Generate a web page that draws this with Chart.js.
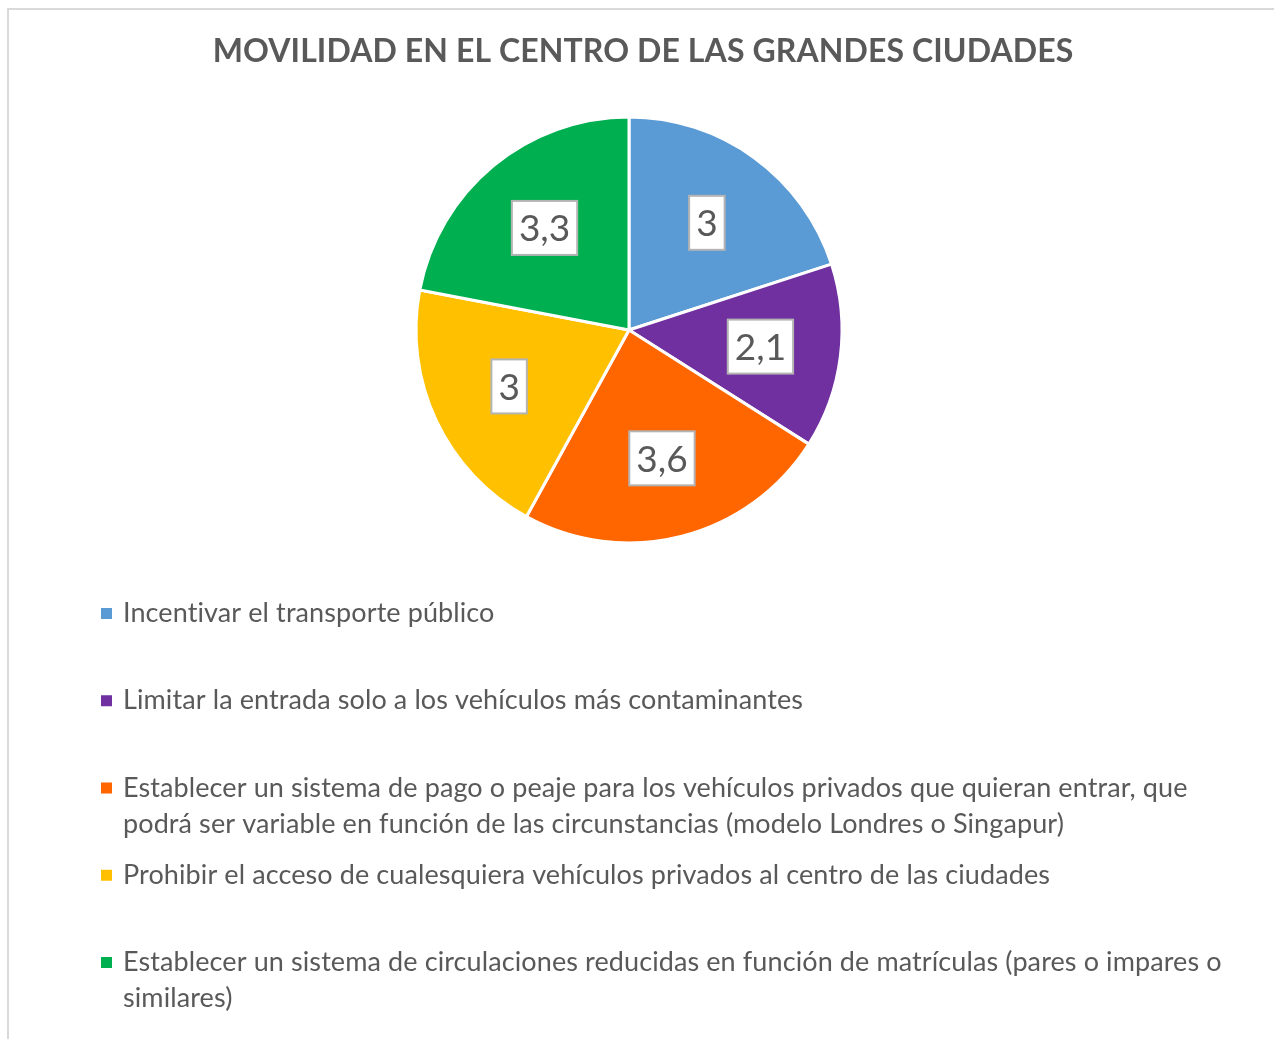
<!DOCTYPE html>
<html><head><meta charset="utf-8">
<script src="https://cdn.jsdelivr.net/npm/chart.js@4/dist/chart.umd.min.js"></script>
<style>html,body{margin:0;padding:0;background:#fff}canvas{display:block}</style>
</head><body>
<canvas id="c" width="1274" height="1039"></canvas>
<script>
const chartTitle = "MOVILIDAD EN EL CENTRO DE LAS GRANDES CIUDADES";
const categories = [
  "Incentivar el transporte público",
  "Limitar la entrada solo a los vehículos más contaminantes",
  "Establecer un sistema de pago o peaje para los vehículos privados que quieran entrar, que podrá ser variable en función de las circunstancias (modelo Londres o Singapur)",
  "Prohibir el acceso de cualesquiera vehículos privados al centro de las ciudades",
  "Establecer un sistema de circulaciones reducidas en función de matrículas (pares o impares o similares)"
];
const values = [3, 2.1, 3.6, 3, 3.3];
const colors = ["#5B9BD5", "#7030A0", "#FF6600", "#FFC000", "#00B050"];

const FONT = "Lato, 'Open Sans', sans-serif";
const TEXT = "#595959";

const framePlugin = {
  id: 'frame',
  beforeDraw(chart) {
    const ctx = chart.ctx;
    ctx.save();
    ctx.fillStyle = '#fff';
    ctx.fillRect(0, 0, chart.width, chart.height);
    ctx.strokeStyle = '#d9d9d9';
    ctx.lineWidth = 2;
    ctx.beginPath();
    ctx.moveTo(8, chart.height);
    ctx.lineTo(8, 9);
    ctx.lineTo(chart.width, 9);
    ctx.stroke();
    ctx.restore();
  }
};

const titlePlugin = {
  id: 'customTitle',
  afterDraw(chart) {
    const ctx = chart.ctx;
    ctx.save();
    ctx.font = "bold 32px " + FONT;
    ctx.letterSpacing = '0.1px';
    ctx.fillStyle = TEXT;
    ctx.textAlign = 'center';
    ctx.textBaseline = 'alphabetic';
    ctx.fillText(chartTitle, 643, 62);
    ctx.restore();
  }
};

const labelPlugin = {
  id: 'valueLabels',
  afterDatasetsDraw(chart) {
    const ctx = chart.ctx;
    const meta = chart.getDatasetMeta(0);
    ctx.save();
    ctx.font = "37px " + FONT;
    ctx.textAlign = 'center';
    ctx.textBaseline = 'alphabetic';
    meta.data.forEach((arc, i) => {
      const p = arc.getProps(['x', 'y', 'startAngle', 'endAngle', 'outerRadius'], true);
      const a = (p.startAngle + p.endAngle) / 2;
      const r = p.outerRadius * 0.622;
      const cx = p.x + Math.cos(a) * r;
      const cy = p.y + Math.sin(a) * r;
      const txt = values[i].toLocaleString('es-ES');
      const w = ctx.measureText(txt).width + 14;
      const h = 54;
      ctx.fillStyle = '#fff';
      ctx.fillRect(cx - w / 2, cy - h / 2, w, h);
      ctx.strokeStyle = '#b4b4b4';
      ctx.lineWidth = 2;
      ctx.strokeRect(cx - w / 2, cy - h / 2, w, h);
      ctx.fillStyle = TEXT;
      ctx.fillText(txt, cx, cy + 13.5);
    });
    ctx.restore();
  }
};

const legendPlugin = {
  id: 'wrapLegend',
  afterDraw(chart) {
    const ctx = chart.ctx;
    ctx.save();
    ctx.font = "27px " + FONT;
    ctx.letterSpacing = '0.1px';
    ctx.textBaseline = 'alphabetic';
    ctx.textAlign = 'left';
    const x0 = 123, maxW = 1130, base0 = 622, step = 87.25, lh = 36;
    categories.forEach((label, i) => {
      const base = base0 + i * step;
      ctx.fillStyle = colors[i];
      ctx.fillRect(101, base - 14, 11, 11);
      const words = label.split(' ');
      const lines = [];
      let cur = '';
      words.forEach(wd => {
        const test = cur ? cur + ' ' + wd : wd;
        if (ctx.measureText(test).width > maxW && cur) { lines.push(cur); cur = wd; }
        else cur = test;
      });
      if (cur) lines.push(cur);
      ctx.fillStyle = TEXT;
      lines.forEach((ln, j) => ctx.fillText(ln, x0, base + j * lh));
    });
    ctx.restore();
  }
};

new Chart(document.getElementById('c'), {
  type: 'pie',
  data: {
    labels: categories,
    datasets: [{ data: values, backgroundColor: colors, borderColor: '#fff', borderWidth: 3 }]
  },
  options: {
    responsive: false,
    animation: false,
    devicePixelRatio: 1,
    layout: { padding: { top: 115.5, bottom: 494.5, left: 414.5, right: 430.5 } },
    plugins: { legend: { display: false }, title: { display: false }, tooltip: { enabled: false } }
  },
  plugins: [framePlugin, titlePlugin, labelPlugin, legendPlugin]
});
</script>
</body></html>
